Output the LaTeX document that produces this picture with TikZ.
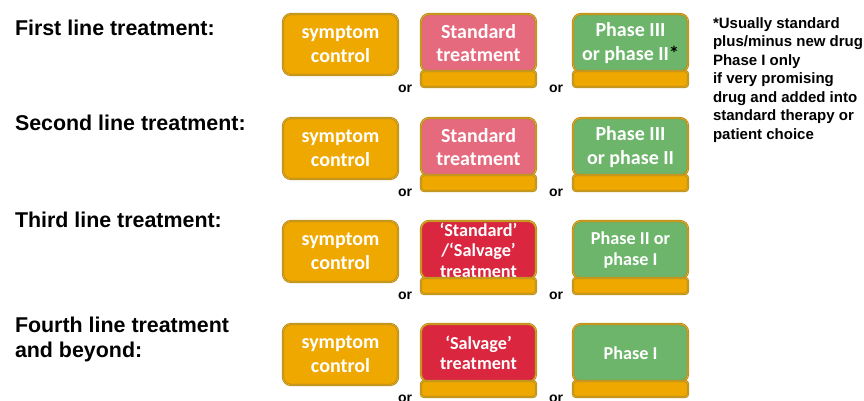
\documentclass[tikz,border=0pt]{standalone}
\usepackage{fontspec}
\setmainfont{Liberation Sans}
\newfontfamily\boxfont{Carlito}
\usetikzlibrary{positioning}

\definecolor{ctrlfill}{HTML}{EFA800}
\definecolor{boxline}{HTML}{B8890F}
\definecolor{boxlight}{HTML}{E2B33C}
\definecolor{stdfill}{HTML}{E56A7D}
\definecolor{salvfill}{HTML}{DB2640}
\definecolor{phasefill}{HTML}{6CB56A}

\begin{document}
\begin{tikzpicture}[x=1pt,y=-1pt,
	every node/.style={inner sep=0pt,outer sep=0pt},
	linelabel/.style={anchor=base west,align=left,font=\fontsize{21.4}{25}\selectfont\bfseries},
	tbox/.style={rectangle,draw=boxline,line width=0.8pt,double=boxlight,double distance=0.6pt,rounded corners=8pt,minimum width=115pt,minimum height=58pt,anchor=north west,text=white,align=center,font=\boxfont\fontsize{20}{23.5}\selectfont\bfseries},
	smalltext/.style={font=\boxfont\fontsize{18.2}{20.5}\selectfont\bfseries},
	barbox/.style={rectangle,draw=boxline,line width=0.8pt,double=boxlight,double distance=0.6pt,rounded corners=3pt,minimum width=115pt,minimum height=16pt,fill=ctrlfill},
	ortext/.style={font=\fontsize{14}{16}\selectfont\bfseries},
	notetext/.style={anchor=north west,align=left,font=\fontsize{15}{18.5}\selectfont\bfseries}]
	\useasboundingbox (0,0) rectangle (864,400);

	% first line
	\node[linelabel] (first) at (15,35.3) {First line treatment:};
	\node[tbox,fill=ctrlfill,minimum height=61pt] (sym1) at (283,14) {symptom\\control};
	\node[tbox,fill=stdfill] (std1) at (421,14) {Standard\\treatment};
	\node[barbox,below=-1pt of std1] (stdbar1) {};
	\node[tbox,fill=phasefill] (ph1) at (573,14) {Phase III\\or phase II{\color{black}*}};
	\node[barbox,below=-1pt of ph1] (phbar1) {};
	\node[ortext] (or1a) at (405,89) {or};
	\node[ortext] (or1b) at (556,89) {or};

	\node[notetext] (note) at (713,17.5) {*Usually standard\\plus/minus new drug\\Phase I only\\if very promising\\drug and added into\\standard therapy or\\patient choice};

	% second line
	\node[linelabel] (second) at (15,130.3) {Second line treatment:};
	\node[tbox,fill=ctrlfill,minimum height=61pt] (sym2) at (283,118) {symptom\\control};
	\node[tbox,fill=stdfill] (std2) at (421,118) {Standard\\treatment};
	\node[barbox,below=-1pt of std2] (stdbar2) {};
	\node[tbox,fill=phasefill] (ph2) at (573,118) {Phase III\\or phase II};
	\node[barbox,below=-1pt of ph2] (phbar2) {};
	\node[ortext] (or2a) at (405,193) {or};
	\node[ortext] (or2b) at (556,193) {or};

	% third line
	\node[linelabel] (third) at (15,227.3) {Third line treatment:};
	\node[tbox,fill=ctrlfill,minimum height=61pt] (sym3) at (283,221) {symptom\\control};
	\node[tbox,fill=salvfill,smalltext] (std3) at (421,221) {‘Standard’\\/‘Salvage’\\treatment};
	\node[barbox,below=-1pt of std3] (stdbar3) {};
	\node[tbox,fill=phasefill,smalltext] (ph3) at (573,221) {Phase II or\\phase I};
	\node[barbox,below=-1pt of ph3] (phbar3) {};
	\node[ortext] (or3a) at (405,296) {or};
	\node[ortext] (or3b) at (556,296) {or};

	% fourth line
	\node[linelabel] (fourth) at (15,357.5) {Fourth line treatment\\and beyond:};
	\node[tbox,fill=ctrlfill,minimum height=61pt] (sym4) at (283,324) {symptom\\control};
	\node[tbox,fill=salvfill,smalltext] (std4) at (421,324) {‘Salvage’\\treatment};
	\node[barbox,below=-1pt of std4] (stdbar4) {};
	\node[tbox,fill=phasefill,smalltext] (ph4) at (573,324) {Phase I};
	\node[barbox,below=-1pt of ph4] (phbar4) {};
	\node[ortext] (or4a) at (405,399) {or};
	\node[ortext] (or4b) at (556,399) {or};
\end{tikzpicture}
\end{document}
